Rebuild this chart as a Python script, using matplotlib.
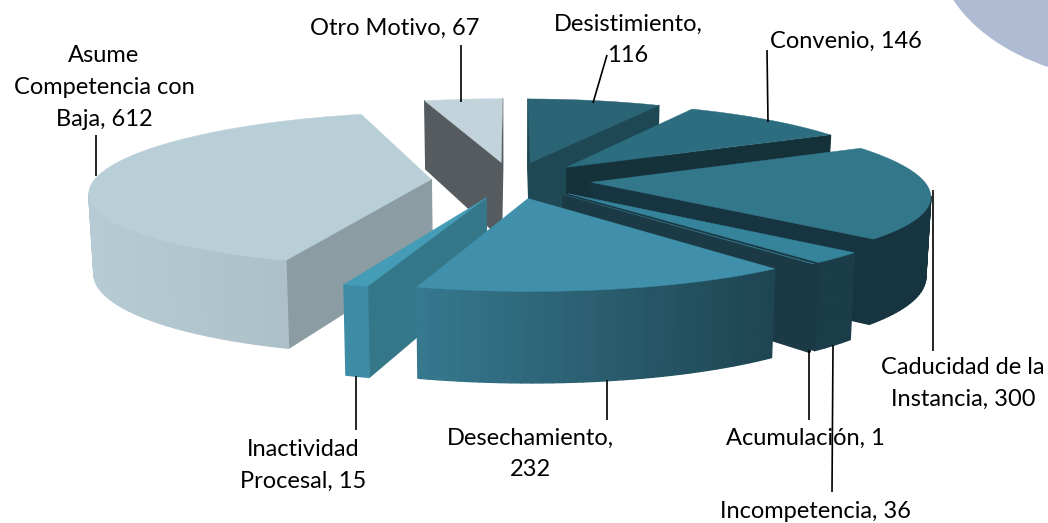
import numpy as np
import matplotlib
matplotlib.use("Agg")
import matplotlib.pyplot as plt
from matplotlib.collections import PolyCollection
from matplotlib.colors import to_rgb
from matplotlib.patches import Ellipse

# datos, en sentido horario desde las 12
nombres = ["Desistimiento", "Convenio", "Caducidad de la\nInstancia", "Incompetencia",
           "Acumulación", "Desechamiento", "Inactividad\nProcesal",
           "Asume\nCompetencia con\nBaja", "Otro Motivo"]
valores = [116, 146, 300, 36, 1, 232, 15, 612, 67]
separador = [",\n", ", ", ", ", ", ", ", ", ",\n", ", ", ", ", ", "]

# colores: tapa, pared, arco izquierda, arco derecha
tapa = ["#2B6475", "#2C6D80", "#33778A", "#35849C", "#33778A", "#4090AC", "#449CB6", "#B9CFD8", "#C3D3DC"]
pared = ["#1E4854", "#15323B", "#173540", "#1B3A45", "#1B3A45", "#37788E", "#347789", "#8C9CA3", "#565B5F"]
arco_a = ["#1E4854", "#15323B", "#173540", "#1B3D49", "#1B3A45", "#37798F", "#3E8BA6", "#B6CBD3", "#565B5F"]
arco_b = ["#1E4854", "#15323B", "#173540", "#1B3D49", "#1B3A45", "#1E4552", "#3E8BA6", "#A9BCC4", "#565B5F"]

# orden de pintado
orden = [0, 1, 2, 8, 7, 6, 3, 4, 5]

# posicion del texto (centro x, y de la primera linea)
pos_texto = [(628, 24), (846, 41), (963, 368), (815, 511), (805, 438),
             (530, 438), (303, 450), (104, 56), (395, 28)]
lineas_guia = [((593, 103), (607, 55)), ((768, 122), (767, 50)), ((933, 190), (933, 351)),
               ((833, 345), (832, 492)), ((809, 350), (809, 420)), ((607, 380), (607, 420)),
               ((356, 376), (356, 430)), ((96, 176), (96, 135)), ((461, 102), (461, 45))]

CX, CY = 512, 180
A_IZQ, A_DER, B = 337, 332, 76
K_X, K_Y, K_H = 0.15, 0.127, 0.12
ALTO = 78
EXPLOTA = 0.24


def proyecta(x, y, abajo=False):
    sx = np.where(x > 0, A_DER, A_IZQ) * x / (1 + K_X * y)
    sy = -B * y / (1 + K_Y * y)
    if abajo:
        sx = sx * 0.988
        sy = sy + ALTO / (1 + K_H * y)
    return CX + sx, CY + sy


plt.rcParams["font.family"] = ["Lato", "DejaVu Sans"]
fig = plt.figure(figsize=(10.48, 5.23), dpi=100, facecolor="white")
ax = fig.add_axes([0, 0, 1, 1])
ax.set_xlim(0, 1048)
ax.set_ylim(523, 0)
ax.axis("off")

# ovalo de adorno arriba a la derecha
ax.add_patch(Ellipse((1152, -50), 428, 268, facecolor="#AEBBD2", edgecolor="none"))

limites = np.cumsum([0] + valores) / sum(valores) * 2 * np.pi

for i in orden:
    t0, t1 = limites[i], limites[i + 1]
    medio = (t0 + t1) / 2
    ox, oy = EXPLOTA * np.sin(medio), EXPLOTA * np.cos(medio)
    angs = np.linspace(t0, t1, max(3, int((t1 - t0) * 40)))
    wx = np.concatenate([[ox], ox + np.sin(angs)])
    wy = np.concatenate([[oy], oy + np.cos(angs)])
    tx, ty = proyecta(wx, wy)
    bx, by = proyecta(wx, wy, abajo=True)

    quads, cols = [], []
    n = len(wx)
    ca, cb = np.array(to_rgb(arco_a[i])), np.array(to_rgb(arco_b[i]))
    x_min, x_max = tx[1:].min(), tx[1:].max()
    for j in range(n):
        k = (j + 1) % n
        if tx[k] >= tx[j]:
            continue
        quads.append([(tx[j], ty[j]), (tx[k], ty[k]), (bx[k], by[k]), (bx[j], by[j])])
        if j == 0 or k == 0:
            cols.append(to_rgb(pared[i]))
        else:
            f = (tx[j] - x_min) / max(x_max - x_min, 1)
            cols.append(tuple(ca + (cb - ca) * f))
    if quads:
        ax.add_collection(PolyCollection(quads, facecolors=cols, edgecolors=cols, linewidths=1.0))
    ax.fill(tx, ty, color=tapa[i], lw=0.3)

for (p, q) in lineas_guia:
    ax.plot([p[0], q[0]], [p[1], q[1]], color="black", lw=1.2, solid_capstyle="butt")

for nombre, valor, sep, (x, y) in zip(nombres, valores, separador, pos_texto):
    texto = f"{nombre}{sep}{valor}"
    for j, linea in enumerate(texto.split("\n")):
        ax.text(x, y + j * 31.5, linea, ha="center", va="center", fontsize=17, color="black")

fig.savefig("out.png", dpi=100)
